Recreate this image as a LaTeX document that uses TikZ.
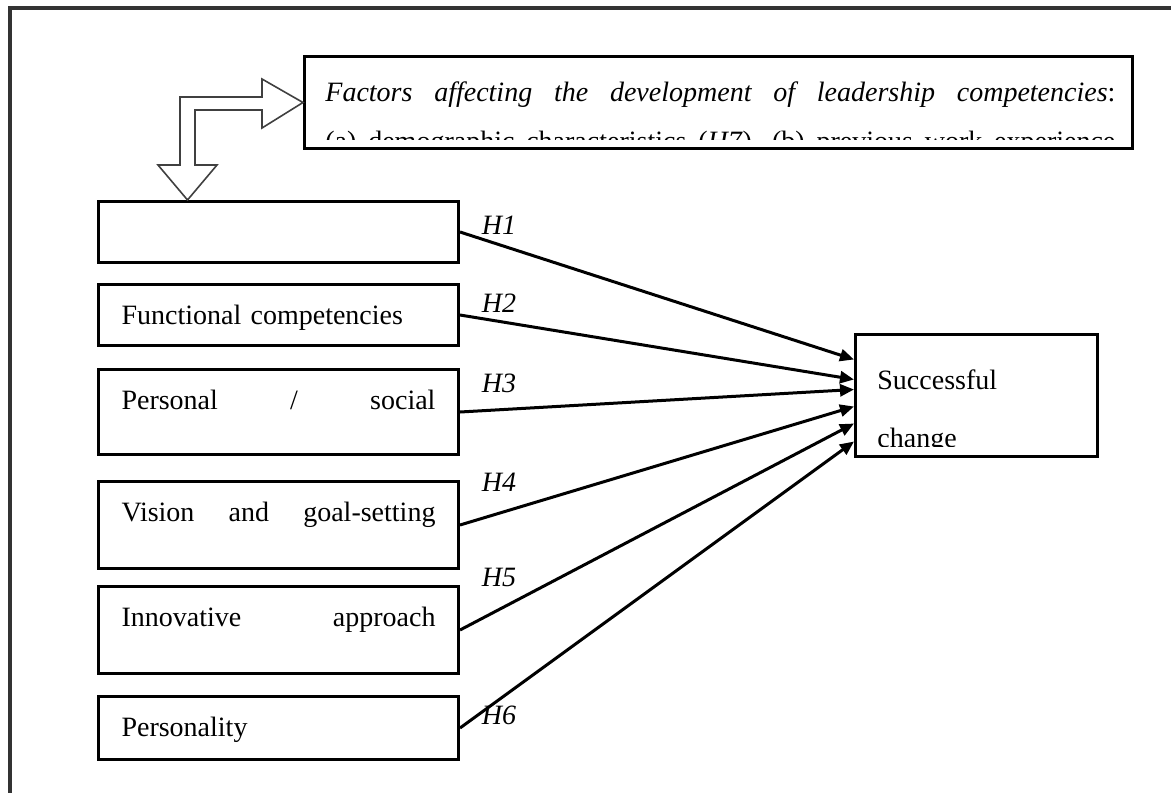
\documentclass[tikz,border=0pt]{standalone}
\usepackage{fontspec}
\setmainfont{Liberation Serif}
\usetikzlibrary{arrows.meta,positioning,calc}

% justified single line, spaces stretch to the full box width
\newcommand{\spreadline}[1]{\hbox to\hsize{\spaceskip=0.25em plus 1fil\relax#1}}

\begin{document}
\begin{tikzpicture}[
  x=0.5pt,y=-0.5pt,
  >={Triangle[length=7pt,width=6pt]},
  font=\fontsize{14}{16}\selectfont,
  frame/.style={draw=black!80, line width=2pt},
  factor/.style={draw=black, line width=1.5pt, anchor=north west, minimum width=180pt,
    inner xsep=11.5pt, inner ysep=0pt, text width=157pt, align=left,
    text height=20pt, text depth=#1},
  emptybox/.style={draw=black, line width=1.5pt, anchor=north west, inner sep=0pt},
  boxtext/.style={anchor=base west, inner sep=0pt, align=left},
  hyp/.style={font=\fontsize{14}{16}\selectfont\itshape},
  link/.style={->, draw=black, line width=1.5pt},
  blockarrow/.style={draw=black!75, line width=0.8pt, fill=white, line join=miter}
]

\useasboundingbox (0,0) rectangle (1171,792);
\clip (0,0) rectangle (1171,792);

% outer frame, only top and left edges fall on the page
\draw[frame] (10,8) rectangle (1200,830);

% factors box, its second line is cut by the box margin
\node[emptybox, minimum width=414pt, minimum height=46pt] (factors) at (303,55) {};
\begin{scope}
  \clip (303,55) rectangle (1131,139);
  \node[boxtext, text width=395pt, font=\fontsize{14}{24.5}\selectfont] (factorstext) at (325,102)
    {\spreadline{\textit{Factors affecting the development of leadership competencies}:}\\
     \spreadline{(a) demographic characteristics (\textit{H7}), (b) previous work experience}};
\end{scope}

% competency boxes
\node[factor=10.5pt] (comp) at (97,200) {};
\node[factor=10.5pt] (func) at (97,283) {Functional competencies};
\node[factor=22.5pt] (pers) at (97,368) {\spreadline{Personal / social}};
\node[factor=23.5pt] (vision) at (97,480) {\spreadline{Vision and goal-setting}};
\node[factor=23.5pt] (innov) at (97,585) {\spreadline{Innovative approach}};
\node[factor=11.5pt] (persty) at (97,695) {Personality};

% outcome box
\node[emptybox, minimum width=121pt, minimum height=61pt] (succ) at (854,333) {};
\begin{scope}
  \clip (854,333) rectangle (1096,446);
  \node[boxtext, text width=100pt, font=\fontsize{14}{29}\selectfont] (succtext) at (877,389)
    {Successful\\change};
\end{scope}

% hypotheses
\draw[link] (comp.east) -- ([yshift=18pt]succ.west);
\draw[link] (func.east) -- ([yshift=8pt]succ.west);
\draw[link] (pers.east) -- ([yshift=3pt]succ.west);
\draw[link] (vision.east) -- ([yshift=-5.5pt]succ.west);
\draw[link] (innov.east) -- ([yshift=-14pt]succ.west);
\draw[link] (persty.east) -- ([yshift=-23pt]succ.west);

\node[hyp] (h1) at (499,225) {H1};
\node[hyp] (h2) at (499,303) {H2};
\node[hyp] (h3) at (499,383) {H3};
\node[hyp] (h4) at (499,482) {H4};
\node[hyp] (h5) at (499,577) {H5};
\node[hyp] (h6) at (499,715) {H6};

% bent block arrow
\draw[blockarrow] (180,97) -- (262,97) -- (262,79) -- (factors.west) -- (262,128)
  -- (262,110) -- (195,110) -- (195,165) -- (217,165) -- ([xshift=45.25pt]comp.north west)
  -- (158,165) -- (180,165) -- cycle;

\end{tikzpicture}
\end{document}
